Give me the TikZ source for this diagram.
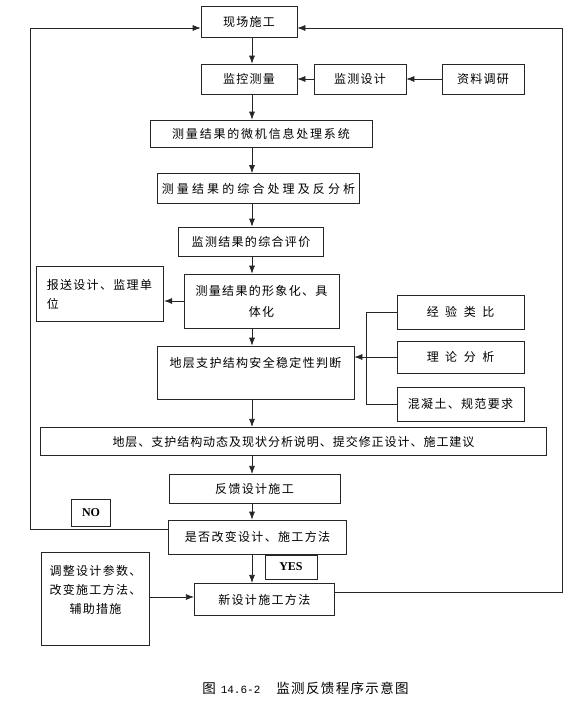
\documentclass[tikz,border=0pt]{standalone}
\usepackage{fontspec}
\setmainfont{Liberation Serif}
\setmonofont{Liberation Mono}
\newfontfamily\cjk[LetterSpace=11]{Noto Sans CJK SC}
\newfontfamily\cjkcap[LetterSpace=10]{Noto Sans CJK SC}
\usepackage{tikz}
\usetikzlibrary{arrows.meta}

\tikzset{
  box/.style={draw=black!85, line width=0.7pt, inner sep=0pt, align=center,
    font=\cjk\fontsize{12}{20}\selectfont},
  tag/.style={draw=black!85, line width=0.7pt, inner sep=0pt,
    font=\bfseries\fontsize{12}{14}\selectfont},
  link/.style={draw=black!85, line width=0.7pt},
  tip/.style={-{Latex[length=8pt, width=6pt]}},
}
\newcommand{\gap}{\hspace{6.5pt}}

\begin{document}
\begin{tikzpicture}[x=1pt, y=-1pt]
    \useasboundingbox (0,0) rectangle (576,704);
    \coordinate (col) at (252,0);
    \coordinate (lft) at (30,0);
    \coordinate (rgt) at (562,0);
    \coordinate (br) at (366,0);
    \node[box, minimum width=96pt,  minimum height=31pt] (site) at (249,21.5)  {现场施工};
    \node[box, minimum width=96pt,  minimum height=30pt] (jkcl) at (249,79)    {监控测量};
    \node[box, minimum width=92pt,  minimum height=30pt] (jcsj) at (360,79)    {监测设计};
    \node[box, minimum width=82pt,  minimum height=30pt] (zldy) at (483,79)    {资料调研};
    \node[box, minimum width=222pt, minimum height=27pt] (wjxx) at (261,133.5) {\addfontfeature{LetterSpace=15}测量结果的微机信息处理系统};
    \node[box, minimum width=202pt, minimum height=30pt] (zhcl) at (258.5,188.5) {\addfontfeature{LetterSpace=26}测量结果的综合处理及反分析};
    \node[box, minimum width=145pt, minimum height=29pt] (zhpj) at (251,241.5) {监测结果的综合评价};
    \node[box, minimum width=155pt, minimum height=54pt, font=\cjk\fontsize{12}{21}\selectfont] (xxh) at (261.5,301) {测量结果的形象化、具\\体化};
    \node[box, minimum width=127pt, minimum height=55pt, text width=107pt, align=left,
          font=\cjk\fontsize{12}{18.5}\selectfont] (bsdw) at (100.3,294.2) {报送设计、监理单\\位};
    \node[box, minimum width=127pt, minimum height=34pt] (jylb) at (460.5,312) {经\gap 验\gap 类\gap 比};
    \node[box, minimum width=127pt, minimum height=32pt] (llfx) at (460.5,357) {理\gap 论\gap 分\gap 析};
    \node[box, minimum width=127pt, minimum height=34pt] (hnt)  at (460.5,404) {混凝土、规范要求};
    \node[box, minimum width=197pt, minimum height=53pt] (dcpd) at (255.5,372.5) {地层支护结构安全稳定性判断\\\mbox{}};
    \node[box, minimum width=506pt, minimum height=28.5pt] (dtfx) at (293.5,441.5) {\addfontfeature{LetterSpace=8}地层、支护结构动态及现状分析说明、提交修正设计、施工建议};
    \node[box, minimum width=171pt, minimum height=29pt] (fksj) at (254.5,488.8) {反馈设计施工};
    \node[box, minimum width=178.5pt, minimum height=34pt] (sfgb) at (257.5,537) {是否改变设计、施工方法};
    \node[tag, minimum width=38.5pt, minimum height=27pt] (no)   at (91,512.5)  {NO};
    \node[tag, minimum width=52pt,  minimum height=24pt] (yes)  at (291,567)   {YES};
    \node[box, minimum width=140pt, minimum height=32.5pt] (xsj) at (264.3,599.5) {新设计施工方法};
    \node[box, minimum width=108.5pt, minimum height=92.5pt, font=\cjk\fontsize{12}{19}\selectfont] (tzsj) at (95.5,598.7)
          {调整设计参数、\\改变施工方法、\\辅助措施\\\mbox{}};
    \node[font=\cjkcap\fontsize{13.5}{15}\selectfont] (cap) at (305.5,688.5)
          {图\hspace{5pt}{\ttfamily\fontsize{11}{13}\selectfont 14.6-2}\hspace{16pt}监测反馈程序示意图};
    \foreach \a/\b in {site/jkcl, jkcl/wjxx, wjxx/zhcl, zhcl/zhpj, zhpj/xxh, xxh/dcpd,
                       dcpd/dtfx, dtfx/fksj, fksj/sfgb, sfgb/xsj}
      \draw[link, tip] (\a.south -| col) -- (\b.north -| col);
    \draw[link, tip] (jcsj.west) -- (jkcl.east);
    \draw[link, tip] (zldy.west) -- (jcsj.east);
    \draw[link, tip] (xxh.west) -- (xxh.west -| bsdw.east);
    \draw[link] (jylb.west) -| (br |- hnt.west) -- (hnt.west);
    \draw[link, tip] (llfx.west) -- (llfx.west -| dcpd.east);
    \draw[link, tip] ([yshift=7.7pt]sfgb.west) -| (lft |- 0,28) -- (site.west |- 0,28);
    \draw[link, tip] ([yshift=6.8pt]xsj.east) -| (rgt |- 0,28) -- (site.east |- 0,28);
    \draw[link, tip] (tzsj.east |- 0,597) -- (xsj.west |- 0,597);
  \end{tikzpicture}
\end{document}
